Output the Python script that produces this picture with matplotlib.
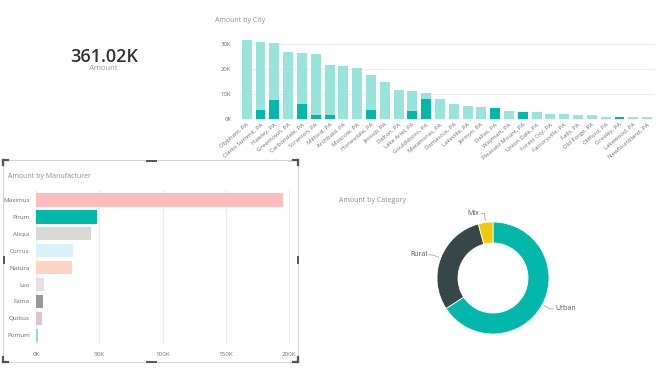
import matplotlib
matplotlib.use("Agg")
import matplotlib.pyplot as plt
import numpy as np

plt.rcParams['font.family'] = ['Open Sans', 'DejaVu Sans']

W, H = 656, 368

# ---------------- data ----------------
card_value = "361.02K"
card_label = "Amount"

cities = ["Olyphant, PA", "Clarks Summit, PA", "Hawley, PA", "Greentown, PA", "Carbondale, PA",
          "Scranton, PA", "Milford, PA", "Archbald, PA", "Moscow, PA", "Honesdale, PA",
          "Jessup, PA", "Dalton, PA", "Lake Ariel, PA", "Gouldsboro, PA", "Matamoras, PA",
          "Damascus, PA", "Lakeville, PA", "Jermyn, PA", "Dallas, PA", "Waymart, PA",
          "Pleasant Mount, PA", "Union Dale, PA", "Forest City, PA", "Factoryville, PA", "Falls, PA",
          "Old Forge, PA", "Clifford, PA", "Greeley, PA", "Lakewood, PA", "Newfoundland, PA"]
city_total = [31700, 31100, 30500, 26800, 26500, 26000, 21900, 21500, 20700, 17700,
              14800, 11700, 11200, 10500, 8000, 6300, 5300, 4800, 4700, 3500,
              2900, 2900, 2100, 2100, 1700, 1600, 1100, 1100, 800, 800]
city_highlight = [0, 3700, 7700, 0, 6300, 1700, 1700, 0, 0, 3700,
                  0, 0, 3300, 8000, 0, 0, 0, 0, 4700, 0,
                  2900, 0, 0, 0, 0, 0, 0, 1100, 0, 0]
city_yticks = [0, 10000, 20000, 30000]
city_yticklabels = ["0K", "10K", "20K", "30K"]

manufacturers = ["Maximus", "Pirum", "Aliqui", "Currus", "Natura", "Leo", "Fama", "Quibus", "Pomum"]
manu_values = [194700, 47900, 43200, 29200, 28200, 6600, 5500, 5000, 1300]
manu_colors = ["#fdbdbd", "#01b8aa", "#d9d9d9", "#daf1f9", "#ffd4c2", "#eadbe5", "#999999", "#dcc3d6", "#8fded6"]
manu_xticks = [0, 50000, 100000, 150000, 200000]
manu_xticklabels = ["0K", "50K", "100K", "150K", "200K"]

categories = ["Urban", "Rural", "Mix"]
cat_values = [237600, 108200, 15200]
cat_colors = ["#01b8aa", "#374649", "#f2c80f"]

# ---------------- helpers ----------------
fig = plt.figure(figsize=(W / 100, H / 100), dpi=100)
fig.patch.set_facecolor("white")


def axes_px(left, top, width, height):
    return fig.add_axes([left / W, 1 - (top + height) / H, width / W, height / H])


def fx(x):
    return x / W


def fy(y):
    return 1 - y / H


label_col = "#6f6f6f"
title_col = "#8f8f8f"
grid_col = "#ececec"

# ---------------- card ----------------
fig.text(fx(104), fy(57), card_value, ha="center", va="center", fontsize=13,
         color="#333333", fontweight="semibold")
fig.text(fx(103), fy(69), card_label, ha="center", va="center", fontsize=5.5, color="#999999")

# ---------------- city chart ----------------
fig.text(fx(215), fy(20), "Amount by City", ha="left", va="center", fontsize=5, color=title_col)
axc = axes_px(239.8, 36.8, 414.2, 82.5)
x = np.arange(len(cities))
axc.bar(x, city_total, width=0.72, color="#99e3dd", zorder=2)
axc.bar(x, city_highlight, width=0.72, color="#01b8aa", zorder=3)
axc.set_xlim(-0.5, len(cities) - 0.5)
axc.set_ylim(0, 33000)
axc.set_yticks(city_yticks)
axc.set_yticklabels(city_yticklabels)
axc.set_xticks(x)
axc.set_xticklabels(cities, rotation=40, ha="right", rotation_mode="anchor")
axc.tick_params(axis="both", length=0, labelsize=4.3, colors=label_col, pad=2)
axc.tick_params(axis="y", pad=6)
for v in city_yticks:
    axc.axhline(v, color=grid_col, lw=0.8, zorder=1)
for s in axc.spines.values():
    s.set_visible(False)
axc.set_facecolor("none")

# ---------------- manufacturer chart ----------------
# selection frame
frame = plt.Rectangle((fx(3), fy(362)), fx(295), (362 - 160) / H, transform=fig.transFigure,
                      fill=False, edgecolor="#d6d6d6", lw=0.8)
fig.patches.append(frame)
hc = "#555555"
def hline(x0, x1, y, lw=1.6):
    fig.add_artist(plt.Line2D([fx(x0), fx(x1)], [fy(y), fy(y)], color=hc, lw=lw))
def vline(x, y0, y1, lw=1.6):
    fig.add_artist(plt.Line2D([fx(x), fx(x)], [fy(y0), fy(y1)], color=hc, lw=lw))
# corners
hline(3, 8, 160); vline(3, 160, 165)
hline(293, 298, 160); vline(298, 160, 165)
hline(3, 8, 362); vline(3, 357, 362)
hline(293, 298, 362); vline(298, 357, 362)
# mid handles
hline(147, 156, 161, lw=1.4)
hline(147, 156, 362, lw=1.4)
vline(4, 257, 263, lw=1.4)
vline(297.5, 257, 263, lw=1.4)
fig.text(fx(290), fy(163), "···", ha="center", va="center", fontsize=5, color="#999999")

fig.text(fx(8), fy(176), "Amount by Manufacturer", ha="left", va="center", fontsize=5, color=title_col)
axm = axes_px(36, 189.9, 256, 155.5)
y = np.arange(len(manufacturers))
axm.barh(y, manu_values, height=0.78, color=manu_colors, zorder=2)
axm.set_ylim(len(manufacturers) - 0.4, -0.6)
axm.set_xlim(0, 200000 * 256 / 253.3)
axm.set_yticks(y)
axm.set_yticklabels(manufacturers)
axm.set_xticks(manu_xticks)
axm.set_xticklabels(manu_xticklabels)
axm.tick_params(axis="both", length=0, labelsize=4.5, colors=label_col)
axm.tick_params(axis="y", pad=4.5)
axm.tick_params(axis="x", pad=5)
for v in manu_xticks:
    axm.axvline(v, color=grid_col, lw=0.8, zorder=1)
for s in axm.spines.values():
    s.set_visible(False)
axm.set_facecolor("none")

# ---------------- category donut ----------------
fig.text(fx(339), fy(200), "Amount by Category", ha="left", va="center", fontsize=5, color=title_col)
cx, cy, R = 493, 278, 56
half = 80
axd = axes_px(cx - half, cy - half, 2 * half, 2 * half)
wedges, _ = axd.pie(cat_values, colors=cat_colors, startangle=90, counterclock=False,
                    radius=1, wedgeprops=dict(width=21 / 56, edgecolor="white", linewidth=0.6))
axd.set_xlim(-half / R, half / R)
axd.set_ylim(-half / R, half / R)
axd.set_aspect("equal")
axd.axis("off")
for w, name in zip(wedges, categories):
    ang = np.deg2rad((w.theta1 + w.theta2) / 2)
    ca, sa = np.cos(ang), np.sin(ang)
    p0 = (1.04 * ca, 1.04 * sa)
    p1 = (1.16 * ca, 1.16 * sa)
    side = 1 if ca >= 0 else -1
    p2 = (p1[0] + side * 0.06, p1[1])
    axd.plot([p0[0], p1[0], p2[0]], [p0[1], p1[1], p2[1]], color="#aaaaaa", lw=0.6, clip_on=False)
    axd.text(p2[0] + side * 0.03, p2[1], name, ha="left" if side > 0 else "right", va="center",
             fontsize=5, color="#555555")

fig.savefig("out.png", dpi=100, facecolor="white")
